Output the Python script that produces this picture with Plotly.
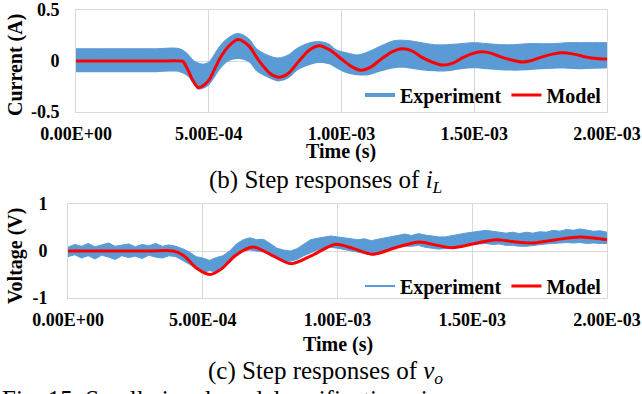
import plotly.graph_objects as go

# ---------------- data ----------------
x_ticks = [0, 5e-4, 1e-3, 1.5e-3, 2e-3]
x_tick_labels = ["0.00E+00", "5.00E-04", "1.00E-03", "1.50E-03", "2.00E-03"]

# (b) inductor current
cur_env_t = [0, 1e-4, 2e-4, 3e-4, 3.9e-4, 4.2e-4, 4.4e-4, 4.6e-4, 4.8e-4, 5.0e-4,
             5.2e-4, 5.4e-4, 5.7e-4, 6.1e-4, 6.5e-4, 6.8e-4, 7.2e-4, 7.6e-4, 8.0e-4, 8.3e-4,
             8.7e-4, 9.1e-4, 9.5e-4, 9.8e-4, 1.02e-3, 1.06e-3, 1.10e-3, 1.15e-3, 1.20e-3, 1.25e-3,
             1.30e-3, 1.35e-3, 1.40e-3, 1.45e-3, 1.50e-3, 1.55e-3, 1.60e-3, 1.65e-3, 1.70e-3, 1.75e-3,
             1.80e-3, 1.85e-3, 1.90e-3, 1.95e-3, 2.0e-3]
cur_exp_upper = [0.12, 0.12, 0.12, 0.12, 0.12, 0.07, 0.01, -0.02, -0.03, -0.01,
                 0.06, 0.14, 0.22, 0.27, 0.22, 0.12, 0.06, 0.03, 0.06, 0.12,
                 0.17, 0.19, 0.17, 0.11, 0.08, 0.06, 0.09, 0.15, 0.20, 0.20,
                 0.18, 0.16, 0.16, 0.17, 0.18, 0.17, 0.16, 0.16, 0.17, 0.17,
                 0.17, 0.18, 0.18, 0.18, 0.18]
cur_exp_lower = [-0.11, -0.11, -0.11, -0.11, -0.11, -0.15, -0.22, -0.28, -0.27, -0.24,
                 -0.17, -0.09, -0.01, 0.02, -0.01, -0.10, -0.16, -0.20, -0.17, -0.10,
                 -0.05, -0.02, -0.03, -0.07, -0.12, -0.14, -0.14, -0.10, -0.07, -0.07,
                 -0.09, -0.10, -0.10, -0.08, -0.07, -0.08, -0.09, -0.095, -0.09, -0.08,
                 -0.075, -0.075, -0.08, -0.075, -0.07]

cur_model_t = [0, 3.0e-4, 3.95e-4, 4.03e-4, 4.22e-4, 4.4e-4, 4.6e-4, 4.8e-4, 5.0e-4, 5.2e-4,
               5.43e-4, 5.73e-4, 6.1e-4, 6.5e-4, 6.9e-4, 7.3e-4, 7.65e-4, 8.0e-4, 8.4e-4, 8.8e-4,
               9.17e-4, 9.55e-4, 9.95e-4, 1.035e-3, 1.072e-3, 1.11e-3, 1.15e-3, 1.19e-3, 1.227e-3,
               1.265e-3, 1.3e-3, 1.34e-3, 1.381e-3, 1.42e-3, 1.455e-3, 1.49e-3, 1.527e-3, 1.565e-3,
               1.6e-3, 1.64e-3, 1.68e-3, 1.715e-3, 1.75e-3, 1.79e-3, 1.826e-3, 1.87e-3, 1.92e-3,
               1.96e-3, 2.0e-3]
cur_model = [0, 0, 0, -0.005, -0.09, -0.19, -0.26, -0.24, -0.19, -0.09,
             0.03, 0.14, 0.21, 0.15, 0.0, -0.12, -0.16, -0.12, 0.0, 0.11,
             0.15, 0.11, 0.03, -0.05, -0.09, -0.06, 0.02, 0.09, 0.12,
             0.10, 0.04, -0.01, -0.04, -0.02, 0.03, 0.07, 0.09, 0.075,
             0.04, 0.01, -0.01, 0.005, 0.035, 0.065, 0.08, 0.07, 0.04,
             0.025, 0.02]

# (c) output voltage: noisy trace envelope, read every 25 us
volt_env_t = [i * 2.5e-5 for i in range(81)]
volt_exp_upper = [0.08, 0.14, 0.10, 0.16, 0.09, 0.13, 0.17, 0.10, 0.12, 0.15,
                  0.09, 0.14, 0.11, 0.16, 0.10, 0.13, 0.10, 0.05, -0.02, -0.12,
                  -0.15, -0.20, -0.14, -0.10, 0.00, 0.15, 0.24, 0.28, 0.24, 0.25,
                  0.16, 0.06, 0.02, 0.00, 0.05, 0.14, 0.24, 0.27, 0.30, 0.32,
                  0.30, 0.28, 0.26, 0.24, 0.26, 0.22, 0.25, 0.28, 0.30, 0.34,
                  0.36, 0.33, 0.37, 0.34, 0.32, 0.30, 0.30, 0.33, 0.35, 0.38,
                  0.40, 0.42, 0.44, 0.42, 0.40, 0.38, 0.40, 0.37, 0.40, 0.38,
                  0.41, 0.40, 0.44, 0.42, 0.46, 0.44, 0.47, 0.44, 0.42, 0.43,
                  0.40]
volt_exp_lower = [-0.12, -0.08, -0.15, -0.10, -0.17, -0.09, -0.13, -0.18, -0.10, -0.14,
                  -0.11, -0.16, -0.09, -0.13, -0.15, -0.10, -0.12, -0.20, -0.28, -0.38,
                  -0.45, -0.42, -0.44, -0.36, -0.25, -0.10, 0.00, 0.02, 0.00, -0.02,
                  -0.06, -0.16, -0.20, -0.22, -0.18, -0.10, -0.04, 0.02, 0.06, 0.08,
                  0.06, 0.03, 0.00, -0.02, -0.06, -0.08, -0.02, 0.02, 0.06, 0.08,
                  0.10, 0.10, 0.12, 0.08, 0.06, 0.04, 0.05, 0.06, 0.10, 0.12,
                  0.14, 0.15, 0.16, 0.14, 0.15, 0.12, 0.12, 0.10, 0.10, 0.12,
                  0.13, 0.15, 0.16, 0.17, 0.18, 0.17, 0.18, 0.16, 0.17, 0.16,
                  0.16]

volt_model_t = [0, 3.0e-4, 3.9e-4, 4.3e-4, 4.8e-4, 5.26e-4, 5.7e-4, 6.2e-4, 6.86e-4, 7.5e-4,
                8.28e-4, 9.1e-4, 9.9e-4, 1.06e-3, 1.131e-3, 1.22e-3, 1.304e-3, 1.37e-3, 1.427e-3,
                1.51e-3, 1.588e-3, 1.65e-3, 1.72e-3, 1.81e-3, 1.9e-3, 2.0e-3]
volt_model = [0, 0, 0, -0.1, -0.38, -0.5, -0.38, -0.1, 0.085, -0.07,
              -0.27, -0.08, 0.14, 0.05, -0.07, 0.08, 0.19, 0.12, 0.07,
              0.16, 0.24, 0.2, 0.17, 0.24, 0.30, 0.24]

BLUE = "#5B9BD5"
RED = "#FF0000"
GRID = "#D9D9D9"
FONT = "Liberation Serif"

W, H = 642, 394


def px(x):
    return x / W


def py(y):
    return 1 - y / H


fig = go.Figure()

# ---- top: current ----
fig.add_trace(go.Scatter(x=cur_env_t, y=cur_exp_lower, mode="lines",
                         line=dict(width=0, color=BLUE, shape="spline"),
                         showlegend=False, hoverinfo="skip", xaxis="x", yaxis="y"))
fig.add_trace(go.Scatter(x=cur_env_t, y=cur_exp_upper, mode="lines", fill="tonexty",
                         fillcolor=BLUE, line=dict(width=1, color=BLUE, shape="spline"),
                         showlegend=False, xaxis="x", yaxis="y"))
fig.add_trace(go.Scatter(x=cur_model_t, y=cur_model, mode="lines",
                         line=dict(width=3, color=RED, shape="spline", smoothing=0.8),
                         showlegend=False, xaxis="x", yaxis="y"))
fig.add_trace(go.Scatter(x=[None], y=[None], mode="lines", name="Experiment",
                         line=dict(width=4, color=BLUE), legend="legend", xaxis="x", yaxis="y"))
fig.add_trace(go.Scatter(x=[None], y=[None], mode="lines", name="Model",
                         line=dict(width=3, color=RED), legend="legend", xaxis="x", yaxis="y"))

# ---- bottom: voltage ----
fig.add_trace(go.Scatter(x=volt_env_t, y=volt_exp_lower, mode="lines",
                         line=dict(width=1, color=BLUE),
                         showlegend=False, hoverinfo="skip", xaxis="x2", yaxis="y2"))
fig.add_trace(go.Scatter(x=volt_env_t, y=volt_exp_upper, mode="lines", fill="tonexty",
                         fillcolor=BLUE, line=dict(width=1, color=BLUE),
                         showlegend=False, xaxis="x2", yaxis="y2"))
fig.add_trace(go.Scatter(x=volt_model_t, y=volt_model, mode="lines",
                         line=dict(width=3, color=RED, shape="spline", smoothing=0.8),
                         showlegend=False, xaxis="x2", yaxis="y2"))
fig.add_trace(go.Scatter(x=[None], y=[None], mode="lines", name="Experiment",
                         line=dict(width=2, color=BLUE), legend="legend2", xaxis="x2", yaxis="y2"))
fig.add_trace(go.Scatter(x=[None], y=[None], mode="lines", name="Model",
                         line=dict(width=3, color=RED), legend="legend2", xaxis="x2", yaxis="y2"))

tickfont = dict(family=FONT, size=18, color="black", weight="bold")

xcommon = dict(range=[0, 2e-3], tickvals=x_ticks, ticktext=x_tick_labels,
               showgrid=True, gridcolor=GRID, gridwidth=1, showline=True, linecolor=GRID,
               linewidth=1, mirror=True, zeroline=False, tickfont=tickfont, ticks="",
               ticklabelstandoff=5, automargin=False)
ycommon = dict(showgrid=True, gridcolor=GRID, gridwidth=1, showline=True, linecolor=GRID,
               linewidth=1, mirror=True, zeroline=False, tickfont=tickfont, ticks="",
               automargin=False)

legfont = dict(family=FONT, size=20, weight="bold", color="black")

fig.update_layout(
    template="none",
    width=W, height=H,
    margin=dict(l=0, r=0, t=0, b=0, pad=0, autoexpand=False),
    paper_bgcolor="white", plot_bgcolor="white",
    font=dict(family=FONT, color="black"),
    xaxis=dict(domain=[px(76), px(607)], anchor="y", **xcommon),
    yaxis=dict(domain=[py(112), py(10)], anchor="x", range=[-0.5, 0.5],
               tickvals=[-0.5, 0, 0.5], ticktext=["-0.5", "0", "0.5"],
               ticklabelstandoff=12, **ycommon),
    xaxis2=dict(domain=[px(68), px(607)], anchor="y2", **xcommon),
    yaxis2=dict(domain=[py(298), py(204)], anchor="x2", range=[-1, 1],
                tickvals=[-1, 0, 1], ticktext=["-1", "0", "1"],
                ticklabelstandoff=16, **ycommon),
    legend=dict(orientation="h", x=px(607), xanchor="right", y=py(95), yanchor="middle",
                bgcolor="rgba(0,0,0,0)", font=legfont, traceorder="normal",
                itemwidth=30, borderwidth=0),
    legend2=dict(orientation="h", x=px(607), xanchor="right", y=py(286), yanchor="middle",
                 bgcolor="rgba(0,0,0,0)", font=legfont, traceorder="normal",
                 itemwidth=30, borderwidth=0),
    showlegend=True,
)


def note(text, x, y, size, angle=0, xa="center", ya="middle"):
    return dict(text=text, x=px(x), y=py(y), xref="paper", yref="paper", xanchor=xa,
                yanchor=ya, showarrow=False, textangle=angle,
                font=dict(family=FONT, size=size, color="black"))


ann = [
    note("<b>Time (s)</b>", 341, 151, 20),
    note("<b>Time (s)</b>", 338, 344, 20),
    note("<b>Current (A)</b>", 15, 65, 20, angle=-90),
    note("<b>Voltage (V)</b>", 16, 256, 20, angle=-90),
    note("(b) Step responses of <i>i</i><sub><i>L</i></sub>", 326, 181, 25),
    note("(c) Step responses of <i>v</i><sub><i>o</i></sub>", 326, 372, 25),
    note("Fig. 15. Small-signal model verification via", 0, 384, 25, xa="left", ya="top"),
]
fig.update_layout(annotations=ann)

fig.write_html("out.html", config={"displayModeBar": False},
               post_script="document.body.style.margin='0';document.body.style.overflow='hidden';")
